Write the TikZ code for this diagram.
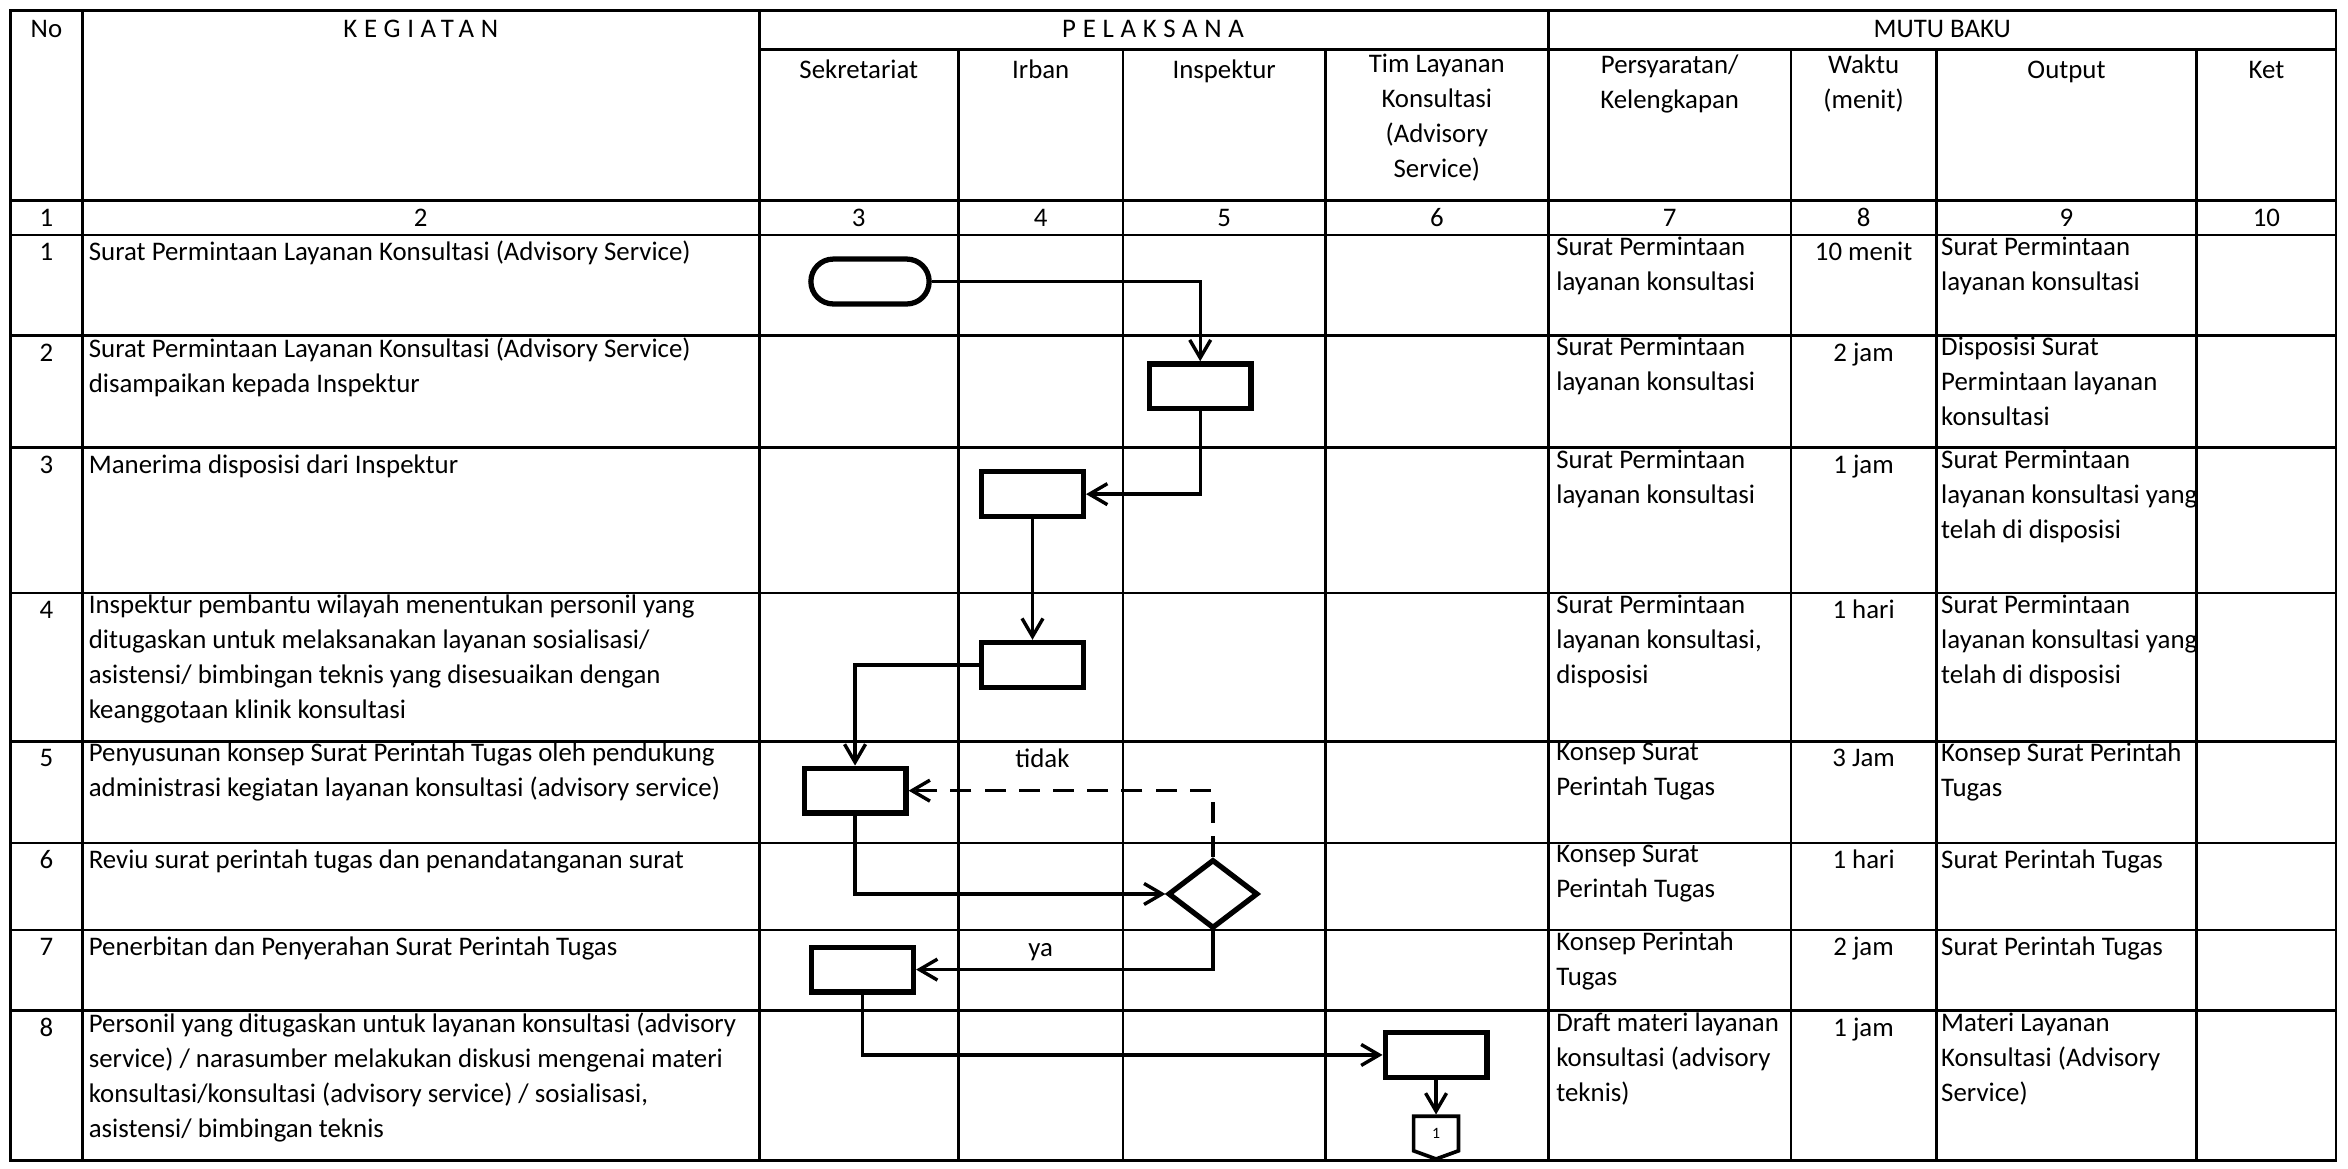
\documentclass[tikz,border=0pt]{standalone}
\usepackage{fontspec}
\setmainfont{Carlito}
\usetikzlibrary{arrows.meta,shapes.geometric,shapes.misc,shapes.symbols}

\begin{document}
\begin{tikzpicture}[x=0.02cm,y=-0.02cm,
    garis/.style={line width=1pt},
    teks/.style={inner sep=0pt,font=\fontsize{10.2}{13.3}\selectfont,execute at begin node={\rule{0pt}{9pt}}},
    kiri/.style={teks,anchor=north west,align=left},
    tengah/.style={teks,anchor=north,align=center},
    proses/.style={draw,line width=2pt,minimum width=1.36cm,minimum height=0.6cm,inner sep=0pt},
    mulai/.style={draw,rounded rectangle,line width=2pt,minimum width=1.58cm,minimum height=0.6cm,inner sep=0pt},
    cek/.style={draw,diamond,line width=2pt,minimum width=1.2cm,minimum height=0.92cm,inner sep=0pt},
    halaman/.style={draw,signal,signal to=south,signal pointer angle=140,line width=1.4pt,minimum width=0.6cm,minimum height=0.48cm,inner sep=0pt,font=\fontsize{6}{7}\selectfont},
    alur/.style={line width=1.3pt,-{Straight Barb[length=2.4mm,width=2.8mm]}},
    ket/.style={inner sep=0pt,font=\fontsize{10.2}{13.3}\selectfont}
  ]
  \useasboundingbox (0,0) rectangle (1568,780);

  % frame and header lines
  \draw[garis] (7,7) rectangle (1560,775);
  \draw[garis] (507,33) -- (1560,33);
  \draw[garis] (7,134) -- (1560,134);
  \draw[garis] (7,157) -- (1560,157);
  % row lines
  \draw[garis] (7,224) -- (1560,224);
  \draw[garis] (7,299) -- (1560,299);
  \draw[garis] (7,396) -- (1560,396);
  \draw[garis] (7,495) -- (1560,495);
  \draw[garis] (7,563) -- (1560,563);
  \draw[garis] (7,621) -- (1560,621);
  \draw[garis] (7,675) -- (1560,675);
  % column lines
  \draw[garis] (55,7) -- (55,775);
  \draw[garis] (507,7) -- (507,775);
  \draw[garis] (1034,7) -- (1034,775);
  \draw[garis] (640,33) -- (640,775);
  \draw[garis] (750,33) -- (750,775);
  \draw[garis] (885,33) -- (885,775);
  \draw[garis] (1196,33) -- (1196,775);
  \draw[garis] (1293,33) -- (1293,775);
  \draw[garis] (1467,33) -- (1467,775);

  % header
  \node[tengah] (hno) at (31,8.6) {No};
  \node[tengah] (hkeg) at (281,8.6) {\addfontfeature{LetterSpace=25}KEGIATAN};
  \node[tengah] (hpel) at (770,8.6) {\addfontfeature{LetterSpace=25}PELAKSANA};
  \node[tengah] (hmutu) at (1297,8.6) {MUTU BAKU};
  \node[tengah] (hsek) at (573.5,36) {Sekretariat};
  \node[tengah] (hirb) at (695,36) {Irban};
  \node[tengah] (hins) at (817.5,36) {Inspektur};
  \node[tengah] (htim) at (959.5,36) {Tim Layanan\\Konsultasi\\(Advisory\\Service)};
  \node[tengah] (hsyarat) at (1115,36) {Persyaratan/\\Kelengkapan};
  \node[tengah] (hwaktu) at (1244.5,36) {Waktu\\(menit)};
  \node[tengah] (hout) at (1380,36) {Output};
  \node[tengah] (hket) at (1513.5,36) {Ket};
  % column numbers
  \node[tengah] at (31,135) {1};
  \node[tengah] at (281,135) {2};
  \node[tengah] at (573.5,135) {3};
  \node[tengah] at (695,135) {4};
  \node[tengah] at (817.5,135) {5};
  \node[tengah] at (959.5,135) {6};
  \node[tengah] at (1115,135) {7};
  \node[tengah] at (1244.5,135) {8};
  \node[tengah] at (1380,135) {9};
  \node[tengah] at (1513.5,135) {10};

  % row 1
  \node[tengah] (no1) at (31,158) {1};
  \node[kiri] (keg1) at (59,158) {Surat Permintaan Layanan Konsultasi (Advisory Service)};
  \node[kiri] (syarat1) at (1039,158) {Surat Permintaan\\layanan konsultasi};
  \node[tengah] (waktu1) at (1244.5,158) {10 menit};
  \node[kiri] (out1) at (1296,158) {Surat Permintaan\\layanan konsultasi};
  % row 2
  \node[tengah] (no2) at (31,225) {2};
  \node[kiri] (keg2) at (59,225) {Surat Permintaan Layanan Konsultasi (Advisory Service)\\disampaikan kepada Inspektur};
  \node[kiri] (syarat2) at (1039,225) {Surat Permintaan\\layanan konsultasi};
  \node[tengah] (waktu2) at (1244.5,225) {2 jam};
  \node[kiri] (out2) at (1296,225) {Disposisi Surat\\Permintaan layanan\\konsultasi};
  % row 3
  \node[tengah] (no3) at (31,300) {3};
  \node[kiri] (keg3) at (59,300) {Manerima disposisi dari Inspektur};
  \node[kiri] (syarat3) at (1039,300) {Surat Permintaan\\layanan konsultasi};
  \node[tengah] (waktu3) at (1244.5,300) {1 jam};
  \node[kiri] (out3) at (1296,300) {Surat Permintaan\\layanan konsultasi yang\\telah di disposisi};
  % row 4
  \node[tengah] (no4) at (31,397) {4};
  \node[kiri] (keg4) at (59,397) {Inspektur pembantu wilayah menentukan personil yang\\ditugaskan untuk melaksanakan layanan sosialisasi/\\asistensi/ bimbingan teknis yang disesuaikan dengan\\keanggotaan klinik konsultasi};
  \node[kiri] (syarat4) at (1039,397) {Surat Permintaan\\layanan konsultasi,\\disposisi};
  \node[tengah] (waktu4) at (1244.5,397) {1 hari};
  \node[kiri] (out4) at (1296,397) {Surat Permintaan\\layanan konsultasi yang\\telah di disposisi};
  % row 5
  \node[tengah] (no5) at (31,496) {5};
  \node[kiri] (keg5) at (59,496) {Penyusunan konsep Surat Perintah Tugas oleh pendukung\\administrasi kegiatan layanan konsultasi (advisory service)};
  \node[kiri] (syarat5) at (1039,496) {Konsep Surat\\Perintah Tugas};
  \node[tengah] (waktu5) at (1244.5,496) {3 Jam};
  \node[kiri] (out5) at (1296,496) {Konsep Surat Perintah\\Tugas};
  % row 6
  \node[tengah] (no6) at (31,564) {6};
  \node[kiri] (keg6) at (59,564) {Reviu surat perintah tugas dan penandatanganan surat};
  \node[kiri] (syarat6) at (1039,564) {Konsep Surat\\Perintah Tugas};
  \node[tengah] (waktu6) at (1244.5,564) {1 hari};
  \node[kiri] (out6) at (1296,564) {Surat Perintah Tugas};
  % row 7
  \node[tengah] (no7) at (31,622) {7};
  \node[kiri] (keg7) at (59,622) {Penerbitan dan Penyerahan Surat Perintah Tugas};
  \node[kiri] (syarat7) at (1039,622) {Konsep Perintah\\Tugas};
  \node[tengah] (waktu7) at (1244.5,622) {2 jam};
  \node[kiri] (out7) at (1296,622) {Surat Perintah Tugas};
  % row 8
  \node[tengah] (no8) at (31,676) {8};
  \node[kiri] (keg8) at (59,676) {Personil yang ditugaskan untuk layanan konsultasi (advisory\\service) / narasumber melakukan diskusi mengenai materi\\konsultasi/konsultasi (advisory service) / sosialisasi,\\asistensi/ bimbingan teknis};
  \node[kiri] (syarat8) at (1039,676) {Draft materi layanan\\konsultasi (advisory\\teknis)};
  \node[tengah] (waktu8) at (1244.5,676) {1 jam};
  \node[kiri] (out8) at (1296,676) {Materi Layanan\\Konsultasi (Advisory\\Service)};

  % flow shapes
  \node[mulai] (start) at (581,188) {};
  \node[proses] (p2) at (801.5,258) {};
  \node[proses] (p3) at (689.5,330) {};
  \node[proses] (p4) at (689.5,444) {};
  \node[proses] (p5) at (571,528) {};
  \node[cek] (reviu) at (810,597) {};
  \node[proses] (p7) at (576,647.5) {};
  \node[proses] (p8) at (959,704.5) {};
  \node[halaman] (hal) at (959,757) {1};

  % connectors
  \draw[alur] (start.east) -| (p2.north);
  \draw[alur] (p2.south) |- (p3.east);
  \draw[alur] (p3.south) -- (p4.north);
  \draw[alur] (p4.west) -| (p5.north);
  \draw[alur] (p5.south) |- (reviu.west);
  \draw[alur,dashed,dash pattern=on 8pt off 5pt] (reviu.north) |- (p5.east)
    node[ket,above=0.28cm,pos=0.78,solid] {tidak};
  \draw[alur] (reviu.south) |- (p7.east)
    node[ket,above=0.1cm,pos=0.79] {ya};
  \draw[alur] (p7.south) |- (p8.west);
  \draw[alur] (p8.south) -- (hal.north);
\end{tikzpicture}
\end{document}
